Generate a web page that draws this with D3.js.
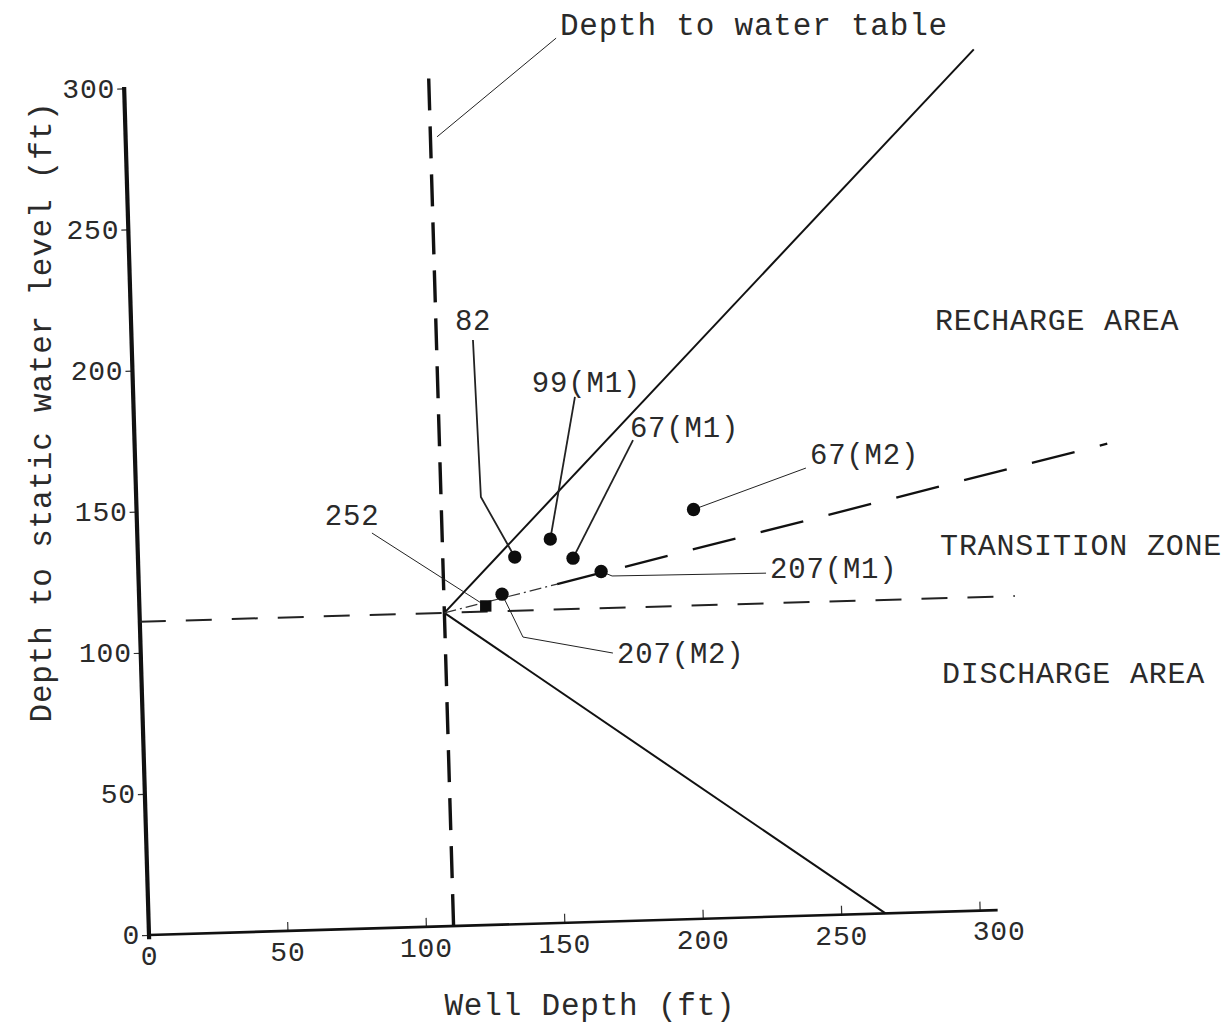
<!DOCTYPE html>
<html>

<head>
    <meta charset=utf-8 />
    <script src="https://cdn.jsdelivr.net/npm/d3@7"></script>
    <title>well depth vs static water level</title>
    <style>
        html,
        body {
            margin: 0;
            background: white;
        }

        svg {
            display: block;
        }

        text {
            font-family: "Liberation Mono", "DejaVu Sans Mono", monospace;
            fill: #2a2a2a;
            letter-spacing: 0.8px;
        }
    </style>
</head>

<body>
    <script>
        // chart data (ft)
        var xTicks = [0, 50, 100, 150, 200, 250, 300];
        var yTicks = [0, 50, 100, 150, 200, 250, 300];

        var wellIds = ['82', '99(M1)', '67(M1)', '67(M2)', '207(M1)', '207(M2)', '252'];
        var wellDepth = [136, 149, 157, 201, 167, 131, 125];
        var staticLevel = [130, 136, 129, 145, 124, 117, 113];

        var waterTableLine = [[110, 0], [110, 302]];
        var levelLine = [[0, 111], [316, 111]];
        var rechargeLine = [[110, 111], [307, 305]];
        var dischargeLine = [[110, 111], [266, 0]];
        var transitionNear = [[110, 111], [151, 120]];
        var transitionLine = [[151, 120], [351, 164]];

        var regionNames = ['RECHARGE AREA', 'TRANSITION ZONE', 'DISCHARGE AREA'];

        // layout: label anchors / leader bends, in data units
        var regionPos = [[290, 206], [289.5, 126.3], [288.8, 81]];
        var labelPos = {
            '82': { at: [116.8, 211], leader: [[123.2, 207.3], [124.4, 151.6]], heavy: true },
            '99(M1)': { at: [143.9, 188.3], leader: [[159.4, 186.1]], heavy: true },
            '67(M1)': { at: [178.8, 171.3], leader: [[179.9, 170.2]], heavy: true },
            '67(M2)': { at: [243.5, 159.9], leader: [[242, 158.5]] },
            '207(M1)': { at: [227.9, 119.9], leader: [[226.5, 121.7], [170.9, 122.3]] },
            '207(M2)': { at: [171.8, 91.5], leader: [[170.4, 95], [138.1, 101.6]] },
            '252': { at: [67.8, 143.3], leader: [[84.7, 140]] }
        };

        var W = 1228, H = 1023;
        var ox = 149, oy = 935, tilt = -1.68;   // scanned page is slightly rotated
        var rad = tilt * Math.PI / 180;

        var x = d3.scaleLinear().domain([0, 300]).range([0, 831]);
        var y = d3.scaleLinear().domain([0, 300]).range([0, -847]);

        function project(p) {
            var lx = x(p[0]), ly = y(p[1]);
            return [ox + lx * Math.cos(rad) - ly * Math.sin(rad),
                    oy + lx * Math.sin(rad) + ly * Math.cos(rad)];
        }

        var line = d3.line()
            .x(function (d) { return project(d)[0]; })
            .y(function (d) { return project(d)[1]; });

        var svg = d3.select('body').append('svg')
            .attr('width', W)
            .attr('height', H);

        // axes (ticks) in tilted frame
        var frame = svg.append('g')
            .attr('transform', 'translate(' + ox + ',' + oy + ') rotate(' + tilt + ')');

        frame.append('g')
            .call(d3.axisBottom(x).tickValues(xTicks).tickSizeInner(-9).tickSizeOuter(0).tickPadding(10));
        frame.append('g')
            .call(d3.axisLeft(y).tickValues(yTicks).tickSizeInner(7).tickSizeOuter(0).tickPadding(2));

        frame.selectAll('.domain').remove();
        frame.selectAll('.tick line').attr('stroke', '#333').attr('stroke-width', 1.2);
        frame.selectAll('.tick text')
            .attr('font-size', 28)
            .attr('font-family', '"Liberation Mono", monospace')
            .attr('fill', '#2a2a2a')
            .attr('transform', 'rotate(' + (-tilt) + ')');
        // the typed "300" sits past its tick in the original
        frame.selectAll('.tick text')
            .filter(function (d, i, n) { return d === 300 && n[i].getAttribute('y') > 0; })
            .attr('dx', 19);

        // axis lines
        svg.append('path')
            .attr('d', line([[0, -1.5], [0, 300.5]]))
            .attr('stroke', '#111').attr('stroke-width', 4.2).attr('fill', 'none');
        svg.append('path')
            .attr('d', line([[0, 0], [306.5, 0]]))
            .attr('stroke', '#111').attr('stroke-width', 2.6).attr('fill', 'none');

        // boundary lines
        svg.append('path')
            .attr('d', line(waterTableLine))
            .attr('stroke', '#111').attr('stroke-width', 3.4).attr('fill', 'none')
            .attr('stroke-dasharray', '32,16');
        svg.append('path')
            .attr('d', line(levelLine))
            .attr('stroke', '#222').attr('stroke-width', 2).attr('fill', 'none')
            .attr('stroke-dasharray', '26,20');
        svg.append('path')
            .attr('d', line(rechargeLine))
            .attr('stroke', '#111').attr('stroke-width', 2).attr('fill', 'none');
        svg.append('path')
            .attr('d', line(dischargeLine))
            .attr('stroke', '#111').attr('stroke-width', 2).attr('fill', 'none');
        svg.append('path')
            .attr('d', line(transitionNear))
            .attr('stroke', '#333').attr('stroke-width', 1.2).attr('fill', 'none')
            .attr('stroke-dasharray', '12,4,2,4');
        svg.append('path')
            .attr('d', line(transitionLine))
            .attr('stroke', '#111').attr('stroke-width', 2.3).attr('fill', 'none')
            .attr('stroke-dasharray', '44,26');

        // well data
        var wells = wellIds.map(function (id, i) {
            return { id: id, depth: wellDepth[i], level: staticLevel[i] };
        });

        // leader lines
        svg.append('g').selectAll('path')
            .data(wells)
            .enter().append('path')
            .attr('d', function (d) {
                return line(labelPos[d.id].leader.concat([[d.depth, d.level]]));
            })
            .attr('fill', 'none')
            .attr('stroke', '#222')
            .attr('stroke-width', function (d) { return labelPos[d.id].heavy ? 1.8 : 1; });

        svg.append('g').selectAll('text')
            .data(wells)
            .enter().append('text')
            .attr('x', function (d) { return project(labelPos[d.id].at)[0]; })
            .attr('y', function (d) { return project(labelPos[d.id].at)[1]; })
            .attr('font-size', 29)
            .text(function (d) { return d.id; });

        svg.append('g').selectAll('.pt')
            .data(wells)
            .enter().append('path')
            .attr('transform', function (d) {
                var p = project([d.depth, d.level]);
                return 'translate(' + p[0] + ',' + p[1] + ')';
            })
            .attr('d', function (d) {
                return d3.symbol()
                    .type(d.id === '252' ? d3.symbolSquare : d3.symbolCircle)
                    .size(d.id === '252' ? 130 : 140)();
            })
            .attr('fill', '#0d0d0d');

        // depth to water table note
        svg.append('path')
            .attr('d', line([[156.4, 313.3], [112.4, 279.6]]))
            .attr('stroke', '#222').attr('stroke-width', 1).attr('fill', 'none');
        var note = project([157.8, 314.4]);
        svg.append('text')
            .attr('x', note[0]).attr('y', note[1])
            .attr('font-size', 31)
            .text('Depth to water table');

        // region labels
        svg.append('g').selectAll('text')
            .data(regionNames)
            .enter().append('text')
            .attr('x', function (d, i) { return project(regionPos[i])[0]; })
            .attr('y', function (d, i) { return project(regionPos[i])[1]; })
            .attr('font-size', 30)
            .text(function (d) { return d; });

        // axis titles
        svg.append('text')
            .attr('x', 590).attr('y', 1015)
            .attr('text-anchor', 'middle')
            .attr('font-size', 31)
            .text('Well Depth (ft)');

        svg.append('text')
            .attr('transform', 'translate(51,412) rotate(-90)')
            .attr('text-anchor', 'middle')
            .attr('font-size', 31)
            .text('Depth to static water level (ft)');
    </script>
</body>

</html>
